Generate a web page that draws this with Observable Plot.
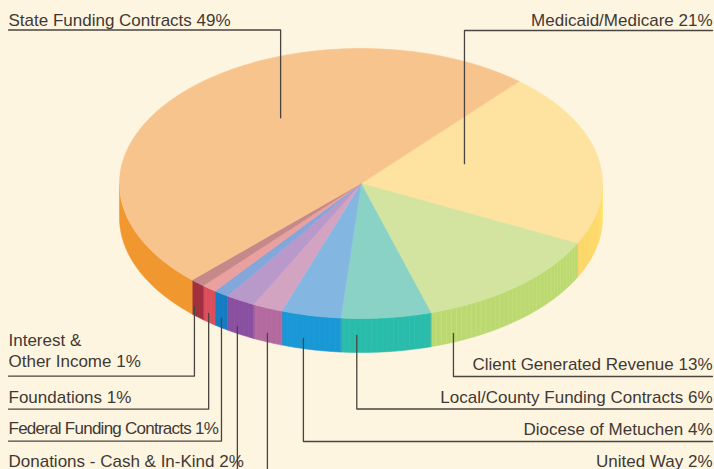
<!DOCTYPE html>
<html><head><meta charset="utf-8">
<script src="https://cdn.jsdelivr.net/npm/d3@7"></script>
<script src="https://cdn.jsdelivr.net/npm/@observablehq/plot@0.6"></script>
<style>
html,body{margin:0;padding:0;background:#FEF5E0;}
#chart svg{display:block;background:#FEF5E0;}
</style></head><body><div id="chart"></div>
<script>
// ---- data (clockwise from the State/Medicaid boundary) ----
const categories = ["Medicaid/Medicare","Client Generated Revenue","Local/County Funding Contracts","Diocese of Metuchen","United Way","Donations - Cash & In-Kind","Federal Funding Contracts","Foundations","Interest & Other Income","State Funding Contracts"];
const values = [21,13,6,4,2,2,1,1,1,49];
const labels = ["Medicaid/Medicare 21%","Client Generated Revenue 13%","Local/County Funding Contracts 6%","Diocese of Metuchen 4%","United Way 2%","Donations - Cash & In-Kind 2%","Federal Funding Contracts 1%","Foundations 1%","Interest &\nOther Income 1%","State Funding Contracts 49%"];
const topColors  = ["#FEE29F","#D3E4A0","#8AD2C6","#84B6E2","#D3A4C2","#B899CA","#83A7DA","#E9A09E","#C6898A","#F7C48E"];
const sideColors = ["#FED46A","#BCD872","#2BBBAA","#1A98D5","#B26A9F","#8A50A0","#157CC2","#D94F5C","#A0303F","#F0982F"];
const banded     = [true, true, true, true, true, true, true, true, true, false];

// ---- layout ----
const W = 714, H = 469;
const CX = 360.5, CY = 183, RX = 241.5, RY = 135, DEPTH = 34, START = -49.2;
// leader anchors: position within slice (0..1), radius on top face (null = on side), depth fraction on side
const leaderT     = [0.40, 0.878, 0.824, 0.625, 0.5, 0.61, 0.47, 0.53, 0.78, 0.574];
const leaderR     = [0.453, null, null, null, null, null, null, null, null, 0.59];
const leaderDepth = [0, 0.74, 0.5, 0.7, 0.75, 0.8, 0.73, 0.74, 0.74, 0];
const elbowY      = [30, 376, 408.5, 441, H + 5, H + 5, 440.7, 408.7, 375.7, 29.5];
const side        = ["right","right","right","right","right","left","left","left","left","left"];
const labelY      = [25, 369, 402, 434, 466, 466, 433, 402, 366, 25];

const total = d3.sum(values);
let acc = START;
const slices = values.map((v, i) => { const a0 = acc; acc += v / total * 360; return {i, a0, a1: acc}; });
const rad = d => d * Math.PI / 180;
const px = (a, r = 1) => CX + RX * r * Math.cos(rad(a));
const py = (a, h = 0, r = 1) => CY + RY * r * Math.sin(rad(a)) + h;
const arcPts = (a0, a1, h) => {
  const n = Math.max(2, Math.ceil(Math.abs(a1 - a0) / 0.5));
  return d3.range(n + 1).map(k => { const a = a0 + (a1 - a0) * k / n; return [px(a), py(a, h)]; });
};

const topPts = [], sidePts = [], stripes = [];
slices.forEach(s => {
  [[CX, CY], ...arcPts(s.a0, s.a1, 0)].forEach(([x, y]) => topPts.push({x, y, z: "t" + s.i, fill: topColors[s.i]}));
  [0, 360, -360].forEach(off => {
    const b0 = Math.max(s.a0, off), b1 = Math.min(s.a1, 180 + off);
    if (b1 > b0) {
      [...arcPts(b0, b1, 0), ...arcPts(b1, b0, DEPTH)].forEach(([x, y]) => sidePts.push({x, y, z: "s" + s.i + off, fill: sideColors[s.i]}));
      if (banded[s.i]) {
        for (let a = b0 + 1.3; a < b1 - 0.4; a += 1.3) {
          stripes.push({x: px(a), y1: py(a, 0), y2: py(a, DEPTH), c: d3.color(sideColors[s.i]).brighter(0.35).formatHex()});
        }
      }
    }
  });
});

const leaderPts = [];
const labelData = [];
slices.forEach(s => {
  const i = s.i;
  const a = s.a0 + (s.a1 - s.a0) * leaderT[i];
  const x0 = leaderR[i] != null ? px(a, leaderR[i]) : px(a);
  const y0 = leaderR[i] != null ? py(a, 0, leaderR[i]) : py(a, leaderDepth[i] * DEPTH);
  const xEnd = side[i] === "left" ? 8 : W - 2;
  [[x0, y0], [x0, elbowY[i]], [xEnd, elbowY[i]]].forEach(([x, y]) => leaderPts.push({x, y, z: i}));
  labelData.push({x: side[i] === "left" ? 8 : W - 2, y: labelY[i], text: labels[i], anchor: side[i] === "left" ? "start" : "end", cat: categories[i]});
});

const chart = Plot.plot({
  width: W, height: H,
  margin: 0,
  x: {domain: [0, W], range: [0, W], axis: null},
  y: {domain: [0, H], range: [0, H], axis: null},
  color: {type: "identity"},
  style: {background: "#FEF5E0", overflow: "visible"},
  marks: [
    Plot.line(sidePts, {x: "x", y: "y", z: "z", fill: "fill", stroke: "fill", strokeWidth: 0.6, curve: "linear-closed"}),
    Plot.ruleX(stripes, {x: "x", y1: "y1", y2: "y2", stroke: "c", strokeWidth: 0.8, strokeOpacity: 0.35}),
    Plot.line(topPts, {x: "x", y: "y", z: "z", fill: "fill", stroke: "fill", strokeWidth: 0.6, curve: "linear-closed"}),
    Plot.line(leaderPts, {x: "x", y: "y", z: "z", stroke: "#4A4440", strokeWidth: 1.3, curve: "linear"}),
    Plot.text(labelData.filter(d => d.anchor === "start"), {x: "x", y: "y", text: "text", textAnchor: "start", lineAnchor: "bottom", lineHeight: 1.18, fontSize: 17, fill: "#3E3935", fontFamily: "Liberation Sans"}),
    Plot.text(labelData.filter(d => d.anchor === "end"), {x: "x", y: "y", text: "text", textAnchor: "end", lineAnchor: "bottom", lineHeight: 1.18, fontSize: 17, fill: "#3E3935", fontFamily: "Liberation Sans"})
  ]
});
document.getElementById("chart").append(chart);
d3.select(chart).selectAll("text").filter(function() { return this.textContent.startsWith("Federal"); }).attr("letter-spacing", "-0.75px");
</script></body></html>
